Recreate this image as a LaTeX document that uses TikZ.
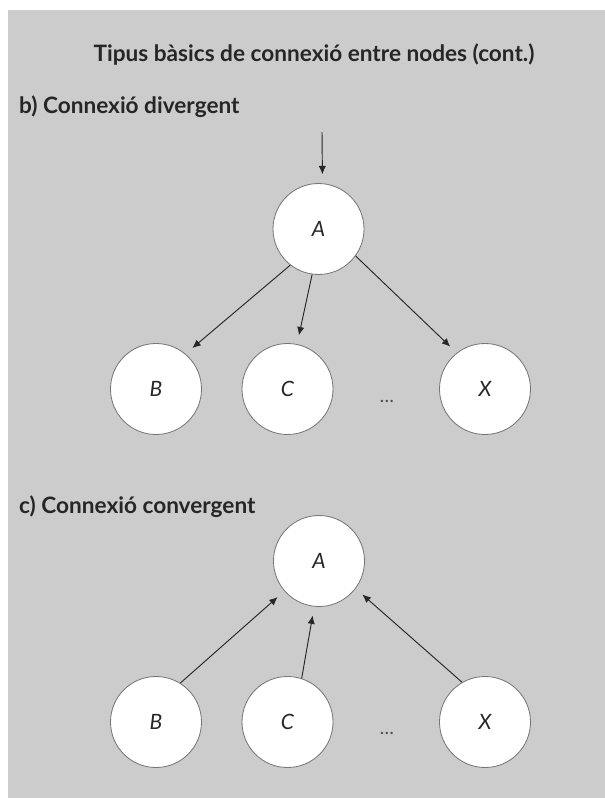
\documentclass[tikz,border=0pt]{standalone}
\usepackage{fontspec}
\setmainfont{Lato}
\usepackage{xcolor}
\usetikzlibrary{arrows.meta}
\definecolor{panelgray}{RGB}{204,204,204}
\definecolor{rimgray}{RGB}{118,118,118}
\definecolor{linkgray}{RGB}{38,38,38}

\begin{document}
\begin{tikzpicture}[x=0.3mm,y=-0.3mm,
    unit/.style={circle,draw=rimgray,line width=0.7pt,fill=white,minimum size=2.73cm,inner sep=0pt,text=black!85,font=\fontsize{18}{20}\selectfont\itshape},
    link/.style={draw=linkgray,line width=0.8pt,-{Latex[length=2.5mm,width=2.2mm]},shorten >=2.7mm},
    heading/.style={text=black!85,font=\fontsize{19.3}{22}\selectfont\bfseries},
    gap/.style={text=black!70,font=\fontsize{16}{18}\selectfont}]
  \useasboundingbox (0,0) rectangle (605,798);
  \fill[panelgray] (8,10) rectangle (605,798);

  \node[heading,anchor=base] (title) at (314,61) {Tipus bàsics de connexió entre nodes (cont.)};

  % b) divergent
  \node[heading,anchor=base west] (divlabel) at (15,113) {b) Connexió divergent};
  \coordinate (feed) at (322,132);
  \node[unit] (dA) at (318.5,229) {A};
  \node[unit] (dB) at (156,389) {B};
  \node[unit] (dC) at (287.5,389) {C};
  \node[unit] (dX) at (485,389) {X};
  \node[gap,anchor=base] (ddots) at (387,402) {\dots};

  \draw[link] (feed) -- (dA.85);
  \draw[link] (dA.232) -- (dB.50);
  \draw[link] (dA.262) -- (dC.78);
  \draw[link] (dA.324) -- (dX.128);

  % c) convergent
  \node[heading,anchor=base west] (convlabel) at (15,513) {c) Connexió convergent};
  \node[unit] (cA) at (319,561) {A};
  \node[unit] (cB) at (156,722) {B};
  \node[unit] (cC) at (287.5,722) {C};
  \node[unit] (cX) at (485,722) {X};
  \node[gap,anchor=base] (cdots) at (387,734) {\dots};

  \draw[link] (cB.58) -- (cA.221);
  \draw[link] (cC.72) -- (cA.264);
  \draw[link] (cX.120) -- (cA.323);
\end{tikzpicture}
\end{document}
